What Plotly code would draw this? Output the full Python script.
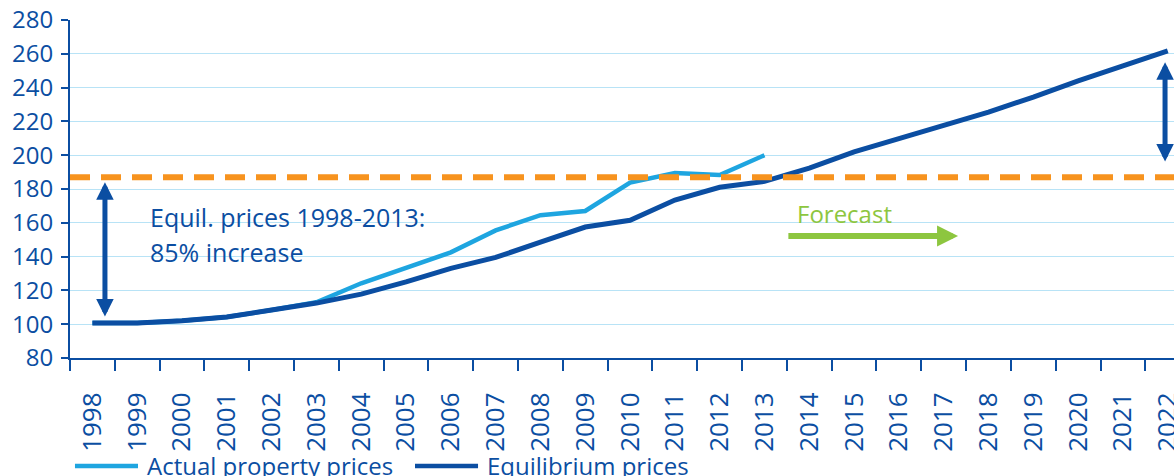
import plotly.graph_objects as go

# ---------------- data ----------------
years = [str(y) for y in range(1998, 2023)]
actual_years = [str(y) for y in range(1998, 2014)]
actual_prices = [100.7, 100.7, 102.0, 104.3, 108.4, 113.0, 124.2, 133.0, 142.5,
                 155.5, 164.5, 167.0, 183.8, 189.5, 188.3, 200.0]
equilibrium_prices = [100.7, 100.7, 102.0, 104.3, 108.4, 112.5, 117.8, 125.0, 133.0,
                      139.5, 148.5, 157.5, 161.5, 173.5, 181.0, 184.5, 192.4, 202.0,
                      209.8, 217.8, 225.5, 234.4, 244.0, 252.8, 261.8]
threshold = 187.0  # 1998 level + 85%
y_ticks = list(range(80, 281, 20))

# ---------------- style ----------------
dark = "#0b4ea2"
light = "#1ea5e0"
grid = "#b8e3f6"
orange = "#f7931e"
green = "#8dc63f"
FONT = "Open Sans"

fig = go.Figure()
fig.add_trace(go.Scatter(x=actual_years, y=actual_prices, mode="lines",
                         name="Actual property prices",
                         line=dict(color=light, width=4.5)))
fig.add_trace(go.Scatter(x=years, y=equilibrium_prices, mode="lines",
                         name="Equilibrium prices",
                         line=dict(color=dark, width=5)))

# orange dashed reference line
fig.add_shape(type="line", xref="paper", x0=0, x1=1, yref="y", y0=threshold, y1=threshold,
              line=dict(color=orange, width=6, dash="20px,11px"))

# double-headed arrows
for xpos, ytop, ybot in [(0.28, 184.0, 103.7), (23.94, 255.0, 195.4)]:
    fig.add_annotation(x=xpos, y=ytop, ax=xpos, ay=ybot, xref="x", yref="y",
                       axref="x", ayref="y", text="", showarrow=True,
                       arrowside="end+start", arrowhead=2, arrowsize=0.7,
                       arrowwidth=5, arrowcolor=dark, standoff=0, startstandoff=0)

# forecast arrow
fig.add_annotation(x=19.32, y=152.2, ax=15.5, ay=152.2, xref="x", yref="y",
                   axref="x", ayref="y", text="", showarrow=True,
                   arrowhead=2, arrowsize=0.7, arrowwidth=6, arrowcolor=green,
                   standoff=0)
fig.add_annotation(x=15.68, y=165.5, xref="x", yref="y", text="Forecast",
                   showarrow=False, xanchor="left", yanchor="middle",
                   font=dict(family=FONT, size=24, color=green))

# text annotation
fig.add_annotation(x=0.0707, y=0.417, xref="paper", yref="paper",
                   text="Equil. prices 1998-2013:", showarrow=False,
                   xanchor="left", yanchor="middle",
                   font=dict(family=FONT, size=25, color=dark))
fig.add_annotation(x=0.0707, y=0.3136, xref="paper", yref="paper",
                   text="85% increase", showarrow=False,
                   xanchor="left", yanchor="middle",
                   font=dict(family=FONT, size=25, color=dark))

# manual legend (cropped at the bottom as in the reference)
leg_y = -0.3195
for x0, x1, col, label in [(0.0045, 0.0616, light, "Actual property prices"),
                           (0.3125, 0.3696, dark, "Equilibrium prices")]:
    fig.add_shape(type="line", xref="paper", yref="paper", x0=x0, x1=x1,
                  y0=leg_y, y1=leg_y, line=dict(color=col, width=4.5))
    fig.add_annotation(x=x1 + 0.0063, y=leg_y, xref="paper", yref="paper",
                       text=label, showarrow=False, xanchor="left",
                       yanchor="middle", font=dict(family=FONT, size=24, color=dark))

fig.update_layout(
    width=1174, height=476,
    margin=dict(l=70, r=0, t=20, b=118, autoexpand=False),
    plot_bgcolor="white", paper_bgcolor="white",
    showlegend=False,
    font=dict(family=FONT, size=24, color=dark),
)
fig.update_xaxes(type="category", categoryorder="array", categoryarray=years,
                 range=[-0.5, 24.14], tickson="boundaries",
                 ticks="outside", ticklen=11, tickwidth=2, tickcolor=dark,
                 showline=True, linecolor=dark, linewidth=2,
                 tickangle=-90, showgrid=False, ticklabelstandoff=22,
                 ticklabeloverflow="allow",
                 tickfont=dict(family=FONT, size=26, color=dark))
fig.update_yaxes(range=[80, 280], tickvals=y_ticks,
                 showgrid=True, gridcolor=grid, gridwidth=1,
                 showline=True, linecolor=dark, linewidth=2,
                 ticks="outside", ticklen=7, tickwidth=2, tickcolor=dark,
                 zeroline=False, ticklabelstandoff=3, ticklabeloverflow="allow",
                 tickfont=dict(family=FONT, size=24, color=dark))

# remove the default 8px page margin so the figure fills the window exactly
fig.write_html("out.html", config={"displayModeBar": False},
               post_script="document.body.style.margin='0';document.body.style.overflow='hidden';")
